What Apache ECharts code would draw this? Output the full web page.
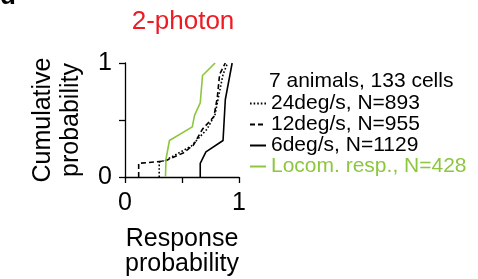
<!DOCTYPE html>
<html>
<head>
<meta charset="utf-8">
<script src="https://cdn.jsdelivr.net/npm/echarts@6/dist/echarts.min.js"></script>
<style>
  html, body { margin: 0; padding: 0; background: #fff; }
  #main { width: 478px; height: 279px; }
</style>
</head>
<body>
<div id="main"></div>
<script>
// cumulative curves, [response probability, cumulative probability]
var fast24 = [[0.30, 0], [0.30, 0.13], [0.36, 0.15], [0.58, 0.27], [0.72, 0.42], [0.79, 0.55], [0.82, 0.7], [0.86, 0.9], [0.90, 1.0]]
var mid12 = [[0.12, 0], [0.12, 0.12], [0.35, 0.14], [0.51, 0.21], [0.60, 0.28], [0.68, 0.42], [0.78, 0.53], [0.81, 0.7], [0.83, 0.9], [0.88, 1.0]]
var slow6 = [[0.66, 0], [0.66, 0.12], [0.71, 0.22], [0.86, 0.32], [0.88, 0.68], [0.94, 1.0]]
var locom = [[0.355, 0], [0.36, 0.16], [0.39, 0.32], [0.59, 0.44], [0.61, 0.54], [0.66, 0.65], [0.68, 0.89], [0.79, 1.0]]
var seriesNames = ['24deg/s, N=893', '12deg/s, N=955', '6deg/s, N=1129', 'Locom. resp., N=428']
var tickLabels = ['0', '1']

var green = '#8dc63f'
var font = 'Liberation Sans, Arial, sans-serif'

var chart = echarts.init(document.getElementById('main'))
chart.setOption({
  animation: false,
  title: [{
    text: '2-photon',
    left: 178,
    top: 4,
    textAlign: 'center',
    textStyle: { color: '#ed1c24', fontSize: 26, fontWeight: 'normal', fontFamily: font }
  }, {
    text: '7 animals, 133 cells',
    left: 264,
    top: 66,
    textStyle: { color: '#000', fontSize: 21, fontWeight: 'normal', fontFamily: font }
  }],
  graphic: [{
    type: 'text',
    left: 0,
    top: -16,
    style: { text: 'd', fill: '#000', font: 'bold 26px ' + font }
  }],
  legend: {
    orient: 'vertical',
    left: 244,
    top: 88,
    itemWidth: 16,
    itemHeight: 14,
    itemGap: 0,
    itemStyle: { opacity: 0 },
    textStyle: { color: '#000', fontSize: 21, fontFamily: font, lineHeight: 21 },
    data: [
      { name: seriesNames[0] },
      { name: seriesNames[1] },
      { name: seriesNames[2] },
      { name: seriesNames[3], textStyle: { color: green } }
    ]
  },
  grid: { left: 125, right: 239, top: 63, bottom: 102, containLabel: false },
  xAxis: {
    type: 'value',
    min: 0,
    max: 1,
    interval: 0.5,
    name: 'Response\nprobability',
    nameLocation: 'middle',
    nameGap: 50,
    nameTextStyle: { color: '#000', fontSize: 25, fontFamily: font, lineHeight: 25 },
    axisLine: { show: true, lineStyle: { color: '#000', width: 1.3 } },
    axisTick: { show: true, length: 6, lineStyle: { color: '#000', width: 1.3 } },
    axisLabel: {
      color: '#000', fontSize: 25, fontFamily: font, margin: 14,
      formatter: function (v) { return v === 0 ? tickLabels[0] : (v === 1 ? tickLabels[1] : '') }
    },
    splitLine: { show: false }
  },
  yAxis: {
    type: 'value',
    min: 0,
    max: 1,
    interval: 0.5,
    name: 'Cumulative\nprobability',
    nameLocation: 'middle',
    nameGap: 40,
    nameTextStyle: { color: '#000', fontSize: 25, fontFamily: font, lineHeight: 28 },
    axisLine: { show: true, lineStyle: { color: '#000', width: 1.3 } },
    axisTick: { show: true, length: 6, lineStyle: { color: '#000', width: 1.3 } },
    axisLabel: {
      color: '#000', fontSize: 25, fontFamily: font, margin: 13,
      formatter: function (v) { return v === 0 ? tickLabels[0] : (v === 1 ? tickLabels[1] : '') }
    },
    splitLine: { show: false }
  },
  series: [
    {
      name: seriesNames[0], type: 'line', data: fast24, symbol: 'none',
      lineStyle: { color: '#000', width: 1.6, type: [1.6, 2] }, itemStyle: { color: '#000' }
    },
    {
      name: seriesNames[1], type: 'line', data: mid12, symbol: 'none',
      lineStyle: { color: '#000', width: 1.6, type: [5, 3] }, itemStyle: { color: '#000' }
    },
    {
      name: seriesNames[2], type: 'line', data: slow6, symbol: 'none',
      lineStyle: { color: '#000', width: 1.6 }, itemStyle: { color: '#000' }
    },
    {
      name: seriesNames[3], type: 'line', data: locom, symbol: 'none',
      lineStyle: { color: green, width: 1.6 }, itemStyle: { color: green }
    }
  ]
})
</script>
</body>
</html>
